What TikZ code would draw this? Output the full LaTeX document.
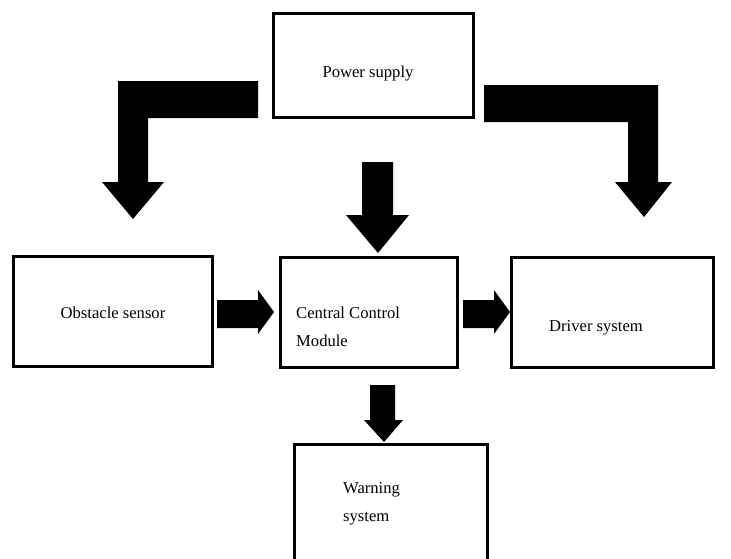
\documentclass[tikz,border=0pt]{standalone}
\usepackage{fontspec}
\setmainfont{Liberation Serif}
\begin{document}
\begin{tikzpicture}[x=1pt,y=-1pt,
  blk/.style={draw=black,line width=3pt,fill=white},
  lbl/.style={font=\fontsize{16.6}{28.5}\selectfont,align=left,inner sep=0pt},
  fat/.style={fill=black,draw=none}]
\useasboundingbox (0,0) rectangle (731,558);
\clip (0,0) rectangle (731,558);
% boxes
\draw[blk] (273.5,13.5) rectangle (473.5,117.5);
\node[lbl] (ps) at (368,74) {Power supply};
\draw[blk] (13.5,256.5) rectangle (212.5,366.5);
\node[lbl] (os) at (113,313) {Obstacle sensor};
\draw[blk] (280,257.5) rectangle (457.5,367);
\node[lbl,anchor=west] (cc) at (296,327) {Central Control\\Module};
\draw[blk] (511.5,257.5) rectangle (713.5,367);
\node[lbl] (ds) at (596,328) {Driver system};
\draw[blk] (294.5,444.5) rectangle (487,600);
\node[lbl,anchor=west] (ws) at (343,504) {Warning\\system};
% left bent arrow
\fill[fat] (258,81) -- (118,81) -- (118,182) -- (102,182) -- (133,219)
  -- (164,182) -- (148,182) -- (148,118) -- (258,118) -- cycle;
% right bent arrow
\fill[fat] (484,85) -- (658,85) -- (658,182) -- (672,182) -- (644,217)
  -- (615,182) -- (628,182) -- (628,122) -- (484,122) -- cycle;
% center down arrow
\fill[fat] (362,162) -- (393,162) -- (393,215) -- (409,215) -- (378,253)
  -- (346,215) -- (362,215) -- cycle;
% obstacle -> central
\fill[fat] (217,300) -- (258,300) -- (258,290) -- (274,312) -- (258,334)
  -- (258,328) -- (217,328) -- cycle;
% central -> driver
\fill[fat] (463,300) -- (494,300) -- (494,290) -- (510,312) -- (494,334)
  -- (494,328) -- (463,328) -- cycle;
% central -> warning
\fill[fat] (370,385) -- (395,385) -- (395,420) -- (403,420) -- (384,442)
  -- (364,420) -- (370,420) -- cycle;
\end{tikzpicture}
\end{document}
